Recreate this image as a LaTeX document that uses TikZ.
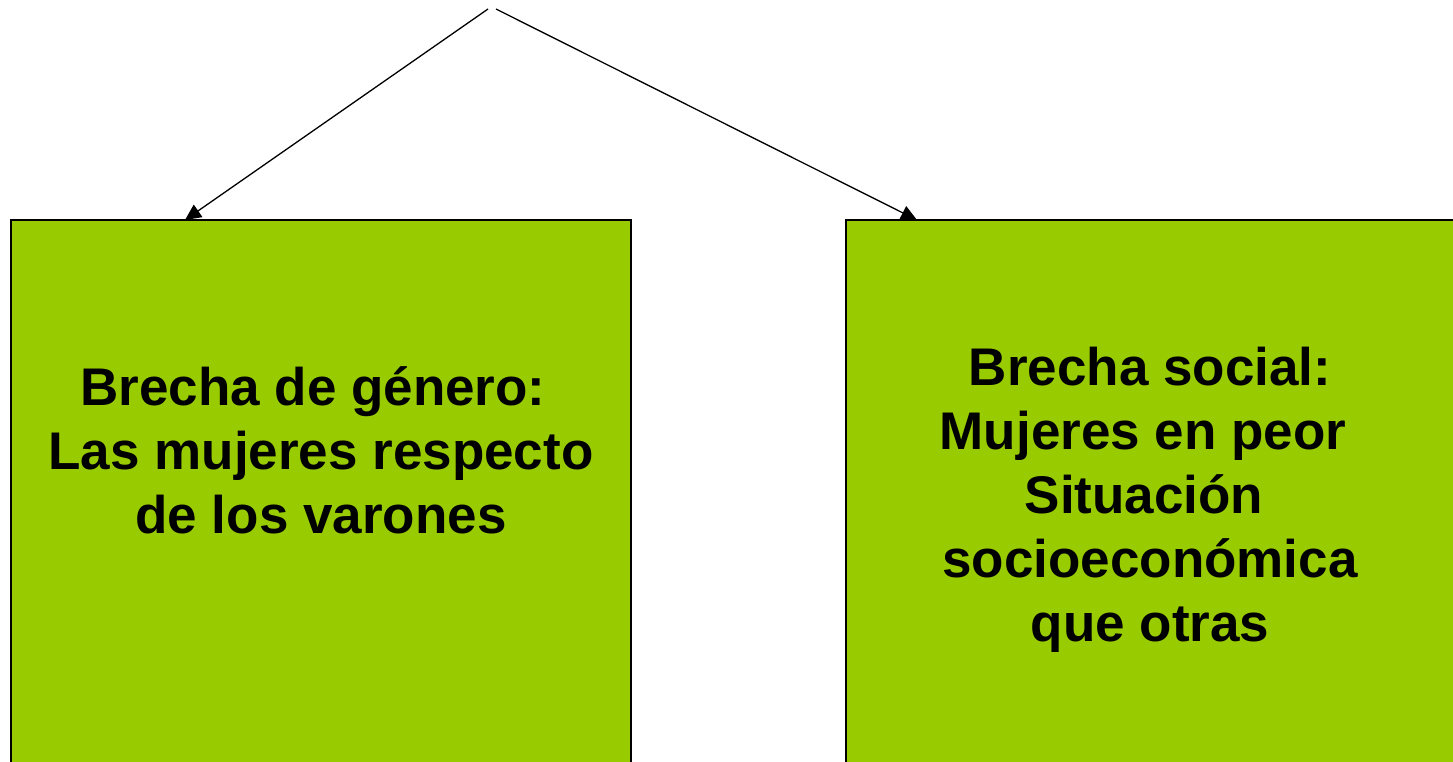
\documentclass[tikz,border=0pt]{standalone}
\usepackage{fontspec}
\setmainfont{Liberation Sans}
\usetikzlibrary{arrows.meta}
\definecolor{boxgreen}{HTML}{99CC00}
\begin{document}
\begin{tikzpicture}[x=1pt,y=-1pt,
  greenbox/.style={draw=black,line width=1.8pt,fill=boxgreen},
  boxtext/.style={anchor=base,inner sep=0pt,align=center,
    font=\fontsize{53}{64}\selectfont\bfseries},
  link/.style={line width=1.3pt,-{Triangle[length=16pt,width=15pt]}}]
\useasboundingbox (0,0) rectangle (1453,761);
\begin{scope}
\clip (0,0) rectangle (1453,761);
\draw[greenbox] (11,220) rectangle (631,800);
\draw[greenbox] (846,220) rectangle (1470,800);
\end{scope}
\node[boxtext] (ltext) at (321,533) {Brecha de género:\kern16pt\\Las mujeres respecto\\de los varones};
\node[boxtext] (rtext) at (1150,641) {Brecha social:\\Mujeres en peor\kern14pt\\Situación\kern12pt\\socioeconómica\\que otras};
\coordinate (lsrc) at (488,9);
\coordinate (rsrc) at (496,9);
\coordinate (ltip) at (185,220);
\coordinate (rtip) at (917,220);
\draw[link] (lsrc) -- (ltip);
\draw[link] (rsrc) -- (rtip);
\end{tikzpicture}
\end{document}
